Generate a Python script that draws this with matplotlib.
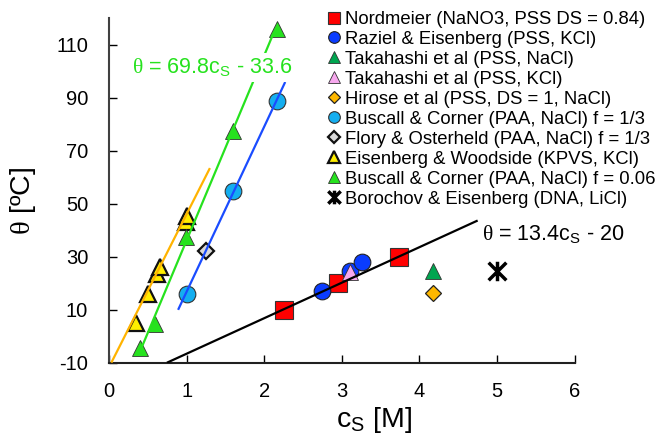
import matplotlib
matplotlib.use("Agg")
import numpy as np
import matplotlib.pyplot as plt
from matplotlib.path import Path

# =========================
# DATA  (c_s in M, theta in degC)
# =========================
nordmeier_c = [2.25, 2.95, 3.74]
nordmeier_t = [10, 20, 30]

raziel_c = [2.74, 3.10, 3.26]
raziel_t = [17, 24.5, 28]

takahashi_nacl_c = [4.17]
takahashi_nacl_t = [24.7]

takahashi_kcl_c = [3.10]
takahashi_kcl_t = [24.3]

hirose_c = [4.17]
hirose_t = [16.2]

buscall_third_c = [1.00, 1.60, 2.16]
buscall_third_t = [15.8, 54.9, 88.9]

flory_c = [1.25]
flory_t = [32.2]

eisenberg_c = [0.35, 0.50, 0.62, 0.66, 0.99, 1.00]
eisenberg_t = [5, 16, 23.5, 26, 43, 45.5]

buscall_006_c = [0.40, 0.59, 0.99, 1.60, 2.16]
buscall_006_t = [-4.5, 4.5, 37.5, 77.5, 116]

borochov_c = [5.0]
borochov_t = [24.7]

# fitted lines: slope, intercept, c range
fit_black = (13.4, -20, 0.746, 4.75)
fit_green = (69.8, -33.6, 0.38, 2.12)
fit_blue = (62.3, -45.5, 0.89, 2.27)
fit_orange = (57.8, -11.7, 0.03, 1.30)

x_ticks = [0, 1, 2, 3, 4, 5, 6]
y_ticks = [-10, 10, 30, 50, 70, 90, 110]

# =========================
# STYLE
# =========================
plt.rcParams['font.family'] = ['Liberation Sans', 'DejaVu Sans']
plt.rcParams['mathtext.fontset'] = 'custom'
plt.rcParams['mathtext.rm'] = 'Liberation Serif'
plt.rcParams['mathtext.sf'] = 'Liberation Sans'
plt.rcParams['axes.unicode_minus'] = False

GREEN = '#26e21e'
BLUE = '#1a4cff'
ORANGE = '#ffb300'

# asterisk marker: an x with a vertical bar
star = Path([(-1, -1), (1, 1), (-1, 1), (1, -1), (0, -1.1), (0, 1.1)],
            [Path.MOVETO, Path.LINETO, Path.MOVETO, Path.LINETO,
             Path.MOVETO, Path.LINETO])

fig = plt.figure(figsize=(6.6, 4.36), dpi=100)
ax = fig.add_axes([0.1652, 0.1681, 0.7055, 0.7902])

# =========================
# SCATTER SERIES
# =========================
ax.plot(nordmeier_c, nordmeier_t, 's', ms=12.5, mfc='#ff0000', mec='#333333', mew=0.8,
        label='Nordmeier (NaNO3, PSS DS = 0.84)')
ax.plot(raziel_c, raziel_t, 'o', ms=12, mfc='#0a3cff', mec='#222222', mew=0.8,
        label='Raziel & Eisenberg (PSS, KCl)')
ax.plot(takahashi_nacl_c, takahashi_nacl_t, '^', ms=11.5, mfc='#00a550', mec='#333333', mew=0.6,
        label='Takahashi et al (PSS, NaCl)')
ax.plot(takahashi_kcl_c, takahashi_kcl_t, '^', ms=11.5, mfc='#f7a8ee', mec='#333333', mew=0.6,
        label='Takahashi et al (PSS, KCl)')
ax.plot(hirose_c, hirose_t, 'D', ms=8.5, mfc='#ffb800', mec='#222222', mew=0.9,
        label='Hirose et al (PSS, DS = 1, NaCl)')
ax.plot(buscall_third_c, buscall_third_t, 'o', ms=12, mfc='#14aef0', mec='#333333', mew=0.8,
        label='Buscall & Corner (PAA, NaCl) f = 1/3')
ax.plot(flory_c, flory_t, 'D', ms=8.5, mfc='#d9d9d9', mec='#111111', mew=1.6,
        label='Flory & Osterheld (PAA, NaCl) f = 1/3')
ax.plot(eisenberg_c, eisenberg_t, '^', ms=12, mfc='#ffee00', mec='#111111', mew=1.6,
        label='Eisenberg & Woodside (KPVS, KCl)')
ax.plot(buscall_006_c, buscall_006_t, '^', ms=11.5, mfc=GREEN, mec='#333333', mew=0.6,
        label='Buscall & Corner (PAA, NaCl) f = 0.06')
ax.plot(borochov_c, borochov_t, ls='none', marker=star, ms=14, mfc='none', mec='black', mew=2.5,
        label='Borochov & Eisenberg (DNA, LiCl)')

# =========================
# FIT LINES
# =========================
for (m, b, c0, c1), col in [(fit_black, 'black'), (fit_green, GREEN),
                            (fit_blue, BLUE), (fit_orange, ORANGE)]:
    cc = np.array([c0, c1])
    ax.plot(cc, m * cc + b, color=col, lw=1.6, zorder=3, solid_capstyle='butt')

ax.text(0.29, 99.2, r'$\mathrm{\theta}$ = 69.8$\mathsf{c}_\mathsf{S}$ - 33.6',
        color=GREEN, fontsize=15.5, ha='left', va='baseline', zorder=5,
        bbox=dict(boxstyle='square,pad=0.15', fc='white', ec='none'))
ax.text(4.80, 36.0, r'$\mathrm{\theta}$ = 13.4$\mathsf{c}_\mathsf{S}$ - 20',
        color='black', fontsize=15.5, ha='left', va='baseline')

# =========================
# AXES
# =========================
ax.set_xlim(0, 6)
ax.set_ylim(-10, 120)
ax.set_xticks(x_ticks)
ax.set_yticks(y_ticks)
ax.tick_params(direction='in', length=6, width=1, labelsize=14.5)
ax.tick_params(axis='x', pad=14)
ax.spines['top'].set_visible(False)
ax.spines['right'].set_visible(False)
ax.tick_params(axis='y', pad=15)
ax.spines['left'].set_linewidth(1.5)
ax.spines['left'].set_color('#404040')
ax.spines['bottom'].set_linewidth(1.5)
ax.spines['bottom'].set_color('#202020')

ax.set_xlabel(r'$\mathsf{c}_\mathsf{S}$ [M]', fontsize=20.5)
ax.xaxis.set_label_coords(0.569, -0.122)
ax.set_ylabel(r'$\mathrm{\theta}$ [ºC]', fontsize=20.5)
ax.yaxis.set_label_coords(-0.152, 0.47)

leg = ax.legend(loc='upper left', bbox_to_anchor=(326 / 660, 1 - 11 / 436),
                bbox_transform=fig.transFigure, frameon=False, fontsize=13.3,
                markerscale=0.7, numpoints=1, handlelength=0.9, handletextpad=0.15,
                labelspacing=0.16, borderpad=0, borderaxespad=0)

fig.savefig('out.png', dpi=100)
